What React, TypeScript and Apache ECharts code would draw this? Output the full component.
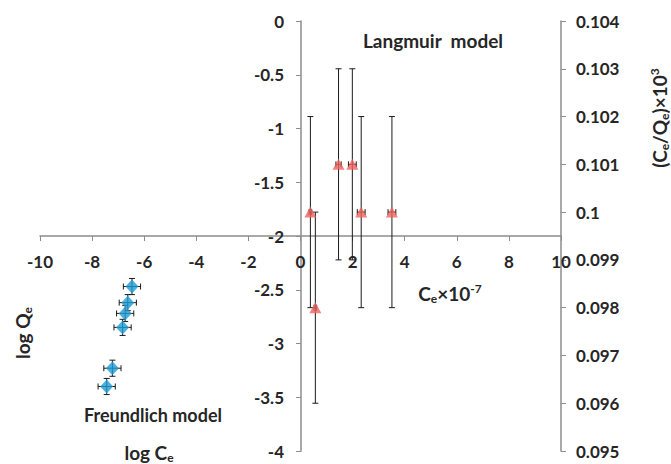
import React, { useEffect, useRef } from "react";
import * as echarts from "echarts";

// Freundlich model (log Ce vs log Qe) — left axis
const freundlichX = [-6.47, -6.63, -6.73, -6.83, -7.22, -7.44];
const freundlichY = [-2.47, -2.62, -2.72, -2.85, -3.23, -3.40];
const freundlichXErr = [0.33, 0.33, 0.33, 0.33, 0.33, 0.33];
const freundlichYErr = [0.075, 0.075, 0.075, 0.075, 0.075, 0.075];

// Langmuir model (Ce×10^-7 vs (Ce/Qe)×10^3) — right axis
const langmuirX = [0.38, 0.57, 1.46, 1.99, 2.33, 3.51];
const langmuirY = [0.1, 0.098, 0.101, 0.101, 0.1, 0.1];
const langmuirXErr = [0.05, 0.05, 0.1, 0.15, 0.15, 0.15];
const langmuirYErr = [0.002, 0.002, 0.002, 0.002, 0.002, 0.002];

const FONT = "Lato";
const TXT = "#262626";
const AXIS = "#8c8c8c";

function errRender(params: any, api: any) {
  const x = api.value(0);
  const y = api.value(1);
  const ex = api.value(2);
  const ey = api.value(3);
  const t = api.coord([x, y + ey]);
  const b = api.coord([x, y - ey]);
  const l = api.coord([x - ex, y]);
  const r = api.coord([x + ex, y]);
  const cap = 3;
  const st = { stroke: "#1a1a1a", lineWidth: 1 };
  const ln = (x1: number, y1: number, x2: number, y2: number) => ({
    type: "line",
    shape: { x1, y1, x2, y2 },
    style: st,
  });
  return {
    type: "group",
    children: [
      ln(t[0], t[1], b[0], b[1]),
      ln(t[0] - cap, t[1], t[0] + cap, t[1]),
      ln(b[0] - cap, b[1], b[0] + cap, b[1]),
      ln(l[0], l[1], r[0], r[1]),
      ln(l[0], l[1] - cap, l[0], l[1] + cap),
      ln(r[0], r[1] - cap, r[0], r[1] + cap),
    ],
  };
}

export default function App() {
  const ref = useRef<HTMLDivElement>(null);
  useEffect(() => {
    const chart = echarts.init(ref.current!, null, { renderer: "svg" });
    const labelStyle = {
      fontFamily: FONT,
      fontWeight: "bold" as const,
      fontSize: 17,
      color: TXT,
    };
    const axisLine = { show: true, onZero: false, lineStyle: { color: AXIS, width: 1.5 } };
    const axisTick = { show: true, length: 5, inside: false, lineStyle: { color: AXIS, width: 1 } };
    const hidden = { show: false, axisLine: { onZero: false }, splitLine: { show: false } };
    const fData = freundlichX.map((x, i) => [x, freundlichY[i], freundlichXErr[i], freundlichYErr[i]]);
    const lData = langmuirX.map((x, i) => [x, langmuirY[i], langmuirXErr[i], langmuirYErr[i]]);
    const gridBase = { containLabel: false, outerBoundsMode: "none" };
    chart.setOption({
      animation: false,
      grid: [
        { ...gridBase, left: 40, right: 110, top: 21, bottom: 13 },
        { ...gridBase, left: 301, right: 110, top: 21, bottom: 13 },
        { ...gridBase, left: 40, right: 110, top: 21, bottom: 228 },
      ],
      xAxis: [
        { type: "value", gridIndex: 0, min: -10, max: 10, ...hidden },
        { type: "value", gridIndex: 1, min: 0, max: 10, ...hidden },
        {
          type: "value",
          gridIndex: 2,
          min: -10,
          max: 10,
          interval: 2,
          position: "bottom",
          axisLine,
          axisTick,
          axisLabel: { ...labelStyle, margin: 17 },
          splitLine: { show: false },
        },
      ],
      yAxis: [
        { type: "value", gridIndex: 0, min: -4, max: 0, position: "left", ...hidden },
        {
          type: "value",
          gridIndex: 0,
          min: 0.095,
          max: 0.104,
          interval: 0.001,
          position: "right",
          axisLine,
          axisTick,
          axisLabel: {
            ...labelStyle,
            margin: 15,
            formatter: (v: number) => String(+v.toFixed(3)),
          },
          splitLine: { show: false },
        },
        {
          type: "value",
          gridIndex: 1,
          min: -4,
          max: 0,
          interval: 0.5,
          position: "left",
          axisLine,
          axisTick,
          axisLabel: { ...labelStyle, margin: 17 },
          splitLine: { show: false },
        },
        { type: "value", gridIndex: 2, min: 0, max: 1, ...hidden },
      ],
      series: [
        {
          type: "custom",
          name: "fErr",
          xAxisIndex: 0,
          yAxisIndex: 0,
          renderItem: errRender,
          data: fData,
          encode: { x: 0, y: 1 },
          z: 3,
          silent: true,
        },
        {
          type: "custom",
          name: "lErr",
          xAxisIndex: 0,
          yAxisIndex: 1,
          renderItem: errRender,
          data: lData,
          encode: { x: 0, y: 1 },
          z: 3,
          silent: true,
        },
        {
          type: "scatter",
          name: "Freundlich",
          xAxisIndex: 0,
          yAxisIndex: 0,
          symbol: "diamond",
          symbolSize: [13, 14],
          itemStyle: { color: "#1e9bd5" },
          data: freundlichX.map((x, i) => [x, freundlichY[i]]),
          z: 5,
        },
        {
          type: "scatter",
          name: "Langmuir",
          xAxisIndex: 0,
          yAxisIndex: 1,
          symbol: "triangle",
          symbolSize: [12, 11],
          itemStyle: { color: "#f0625e" },
          data: langmuirX.map((x, i) => [x, langmuirY[i]]),
          z: 5,
        },
      ],
      graphic: [
        {
          type: "text",
          x: 433,
          y: 40,
          style: { text: "Langmuir  model", fontFamily: FONT, fontWeight: "bold", fontSize: 19, fill: TXT, align: "center", verticalAlign: "middle" },
        },
        {
          type: "text",
          x: 153,
          y: 415,
          style: { text: "Freundlich model", fontFamily: FONT, fontWeight: "bold", fontSize: 18, fill: TXT, align: "center", verticalAlign: "middle" },
        },
        {
          type: "text",
          x: 149,
          y: 452,
          style: {
            text: "log C{sub|e}",
            fontFamily: FONT,
            fontWeight: "bold",
            fontSize: 19,
            fill: TXT,
            align: "center",
            verticalAlign: "middle",
            rich: { sub: { fontFamily: FONT, fontWeight: "bold", fontSize: 12, fill: TXT, padding: [10, 0, 0, 0] } },
          },
        },
        {
          type: "text",
          x: 450,
          y: 293,
          style: {
            text: "C{sub|e}×10{sup|-7}",
            fontFamily: FONT,
            fontWeight: "bold",
            fontSize: 19,
            fill: TXT,
            align: "center",
            verticalAlign: "middle",
            rich: {
              sub: { fontFamily: FONT, fontWeight: "bold", fontSize: 12, fill: TXT, padding: [10, 0, 0, 0] },
              sup: { fontFamily: FONT, fontWeight: "bold", fontSize: 12, fill: TXT, padding: [0, 0, 10, 0] },
            },
          },
        },
        {
          type: "text",
          x: 22,
          y: 333,
          rotation: Math.PI / 2,
          style: {
            text: "log Q{sub|e}",
            fontFamily: FONT,
            fontWeight: "bold",
            fontSize: 19,
            fill: TXT,
            align: "center",
            verticalAlign: "middle",
            rich: { sub: { fontFamily: FONT, fontWeight: "bold", fontSize: 12, fill: TXT, padding: [10, 0, 0, 0] } },
          },
        },
        {
          type: "text",
          x: 659,
          y: 118,
          rotation: Math.PI / 2,
          style: {
            text: "(C{sub|e}/Q{sub|e})×10{sup|3}",
            fontFamily: FONT,
            fontWeight: "bold",
            fontSize: 19,
            fill: TXT,
            align: "center",
            verticalAlign: "middle",
            rich: {
              sub: { fontFamily: FONT, fontWeight: "bold", fontSize: 12, fill: TXT, padding: [10, 0, 0, 0] },
              sup: { fontFamily: FONT, fontWeight: "bold", fontSize: 12, fill: TXT, padding: [0, 0, 10, 0] },
            },
          },
        },
      ],
    });
    return () => chart.dispose();
  }, []);
  return (
    <div
      ref={ref}
      style={{ position: "absolute", left: 0, top: 0, width: 671, height: 464, background: "#fff" }}
    />
  );
}
